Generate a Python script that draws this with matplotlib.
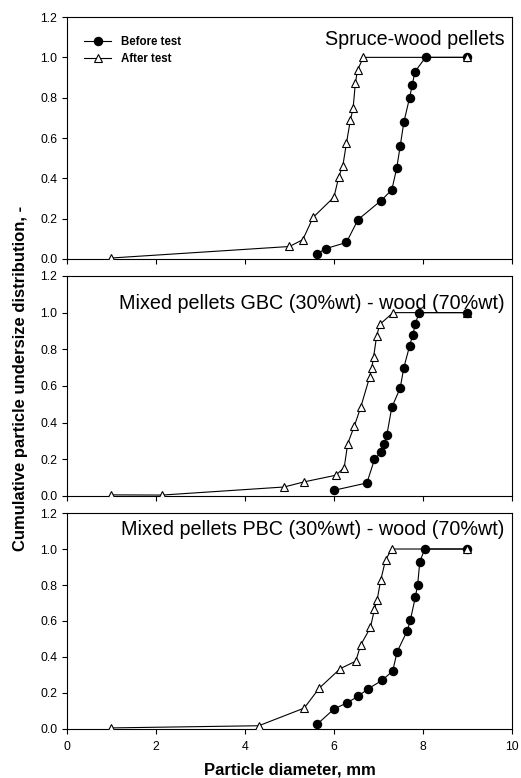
import matplotlib
matplotlib.use("Agg")
import matplotlib.pyplot as plt

plt.rcParams['font.family'] = ['Liberation Sans', 'DejaVu Sans']

# --- data ---
titles = ['Spruce-wood pellets',
          'Mixed pellets GBC (30%wt) - wood (70%wt)',
          'Mixed pellets PBC (30%wt) - wood (70%wt)']

# spruce-wood
spruce_before_x = [5.62, 5.81, 6.28, 6.54, 7.06, 7.30, 7.41, 7.49, 7.57, 7.70, 7.76, 7.82, 8.06, 9.0]
spruce_before_y = [0.025, 0.051, 0.082, 0.195, 0.29, 0.343, 0.45, 0.562, 0.678, 0.80, 0.864, 0.929, 1.0, 1.0]
spruce_after_x = [1.0, 5.0, 5.30, 5.53, 6.0, 6.11, 6.20, 6.28, 6.37, 6.43, 6.48, 6.53, 6.66, 9.0]
spruce_after_y = [0.005, 0.062, 0.096, 0.206, 0.307, 0.409, 0.463, 0.574, 0.69, 0.747, 0.871, 0.937, 1.0, 1.0]

# GBC mix
gbc_before_x = [6.0, 6.74, 6.91, 7.06, 7.13, 7.19, 7.30, 7.49, 7.57, 7.70, 7.77, 7.83, 7.91, 9.0]
gbc_before_y = [0.031, 0.071, 0.199, 0.24, 0.286, 0.335, 0.483, 0.59, 0.70, 0.818, 0.878, 0.938, 1.0, 1.0]
gbc_after_x = [1.0, 2.14, 4.88, 5.33, 6.04, 6.23, 6.31, 6.46, 6.60, 6.80, 6.85, 6.89, 6.96, 7.03, 7.33, 9.0]
gbc_after_y = [0.006, 0.005, 0.049, 0.077, 0.113, 0.155, 0.286, 0.383, 0.483, 0.647, 0.70, 0.756, 0.874, 0.936, 1.0, 1.0]

# PBC mix
pbc_before_x = [5.63, 6.0, 6.30, 6.55, 6.76, 7.08, 7.32, 7.42, 7.65, 7.72, 7.83, 7.88, 7.93, 8.04, 9.0]
pbc_before_y = [0.028, 0.111, 0.146, 0.183, 0.222, 0.27, 0.322, 0.429, 0.547, 0.608, 0.734, 0.80, 0.93, 1.0, 1.0]
pbc_after_x = [1.0, 4.31, 5.33, 5.67, 6.14, 6.49, 6.60, 6.82, 6.91, 6.97, 7.05, 7.16, 7.30, 9.0]
pbc_after_y = [0.006, 0.018, 0.116, 0.227, 0.335, 0.377, 0.466, 0.564, 0.665, 0.717, 0.826, 0.94, 1.0, 1.0]

before = [(spruce_before_x, spruce_before_y), (gbc_before_x, gbc_before_y), (pbc_before_x, pbc_before_y)]
after = [(spruce_after_x, spruce_after_y), (gbc_after_x, gbc_after_y), (pbc_after_x, pbc_after_y)]

fig = plt.figure(figsize=(5.21, 7.78), dpi=100)

# axes boxes in figure fractions: [left, bottom, width, height]
boxes = [[0.1286, 0.6671, 0.854, 0.311],
         [0.1286, 0.3625, 0.854, 0.2828],
         [0.1286, 0.0630, 0.854, 0.2776]]
# title baseline (data units) per panel
title_y = [1.061, 1.019, 1.078]
# which series sits on top where the last points overlap
after_on_top = [True, False, True]

for i, box in enumerate(boxes):
    ax = fig.add_axes(box)
    bx, by = before[i]
    axx, axy = after[i]
    za, zb = (4, 3) if after_on_top[i] else (3, 4)
    ax.plot(bx, by, color='black', lw=0.8, marker='o', ms=5.8,
            mfc='black', mec='black', label='Before test', zorder=zb)
    ax.plot(axx, axy, color='black', lw=0.8, marker='^', ms=5.8,
            mfc='white', mec='black', mew=0.8, label='After test', zorder=za)

    ax.set_xlim(0, 10)
    ax.set_ylim(0, 1.2)
    ax.set_xticks(range(0, 11, 2))
    ax.set_yticks([0.0, 0.2, 0.4, 0.6, 0.8, 1.0, 1.2])
    ax.set_yticklabels(['0.0', '0.2', '0.4', '0.6', '0.8', '1.0', '1.2'])
    ax.tick_params(direction='out', length=3.6, width=0.8, labelsize=8.8, pad=3.5,
                   colors='black')
    ax.tick_params(axis='x', pad=5)
    if i < 2:
        ax.set_xticklabels([])
    for sp in ax.spines.values():
        sp.set_linewidth(0.8)

    ax.text(9.84, title_y[i], titles[i], ha='right', va='baseline', fontsize=14.2)

    if i == 0:
        ax.legend(loc='upper left', frameon=False,
                  prop={'weight': 'bold', 'size': 8.3}, handlelength=2.3,
                  handletextpad=0.9, labelspacing=0.45,
                  bbox_to_anchor=(0.016, 0.964))

fig.text(0.040, 0.514, 'Cumulative particle undersize distribution, -',
         rotation=90, ha='center', va='center', fontsize=12, fontweight='bold')
fig.text(0.556, 0.010, 'Particle diameter, mm', ha='center', va='center',
         fontsize=12, fontweight='bold')

fig.savefig('out.png', dpi=100)
